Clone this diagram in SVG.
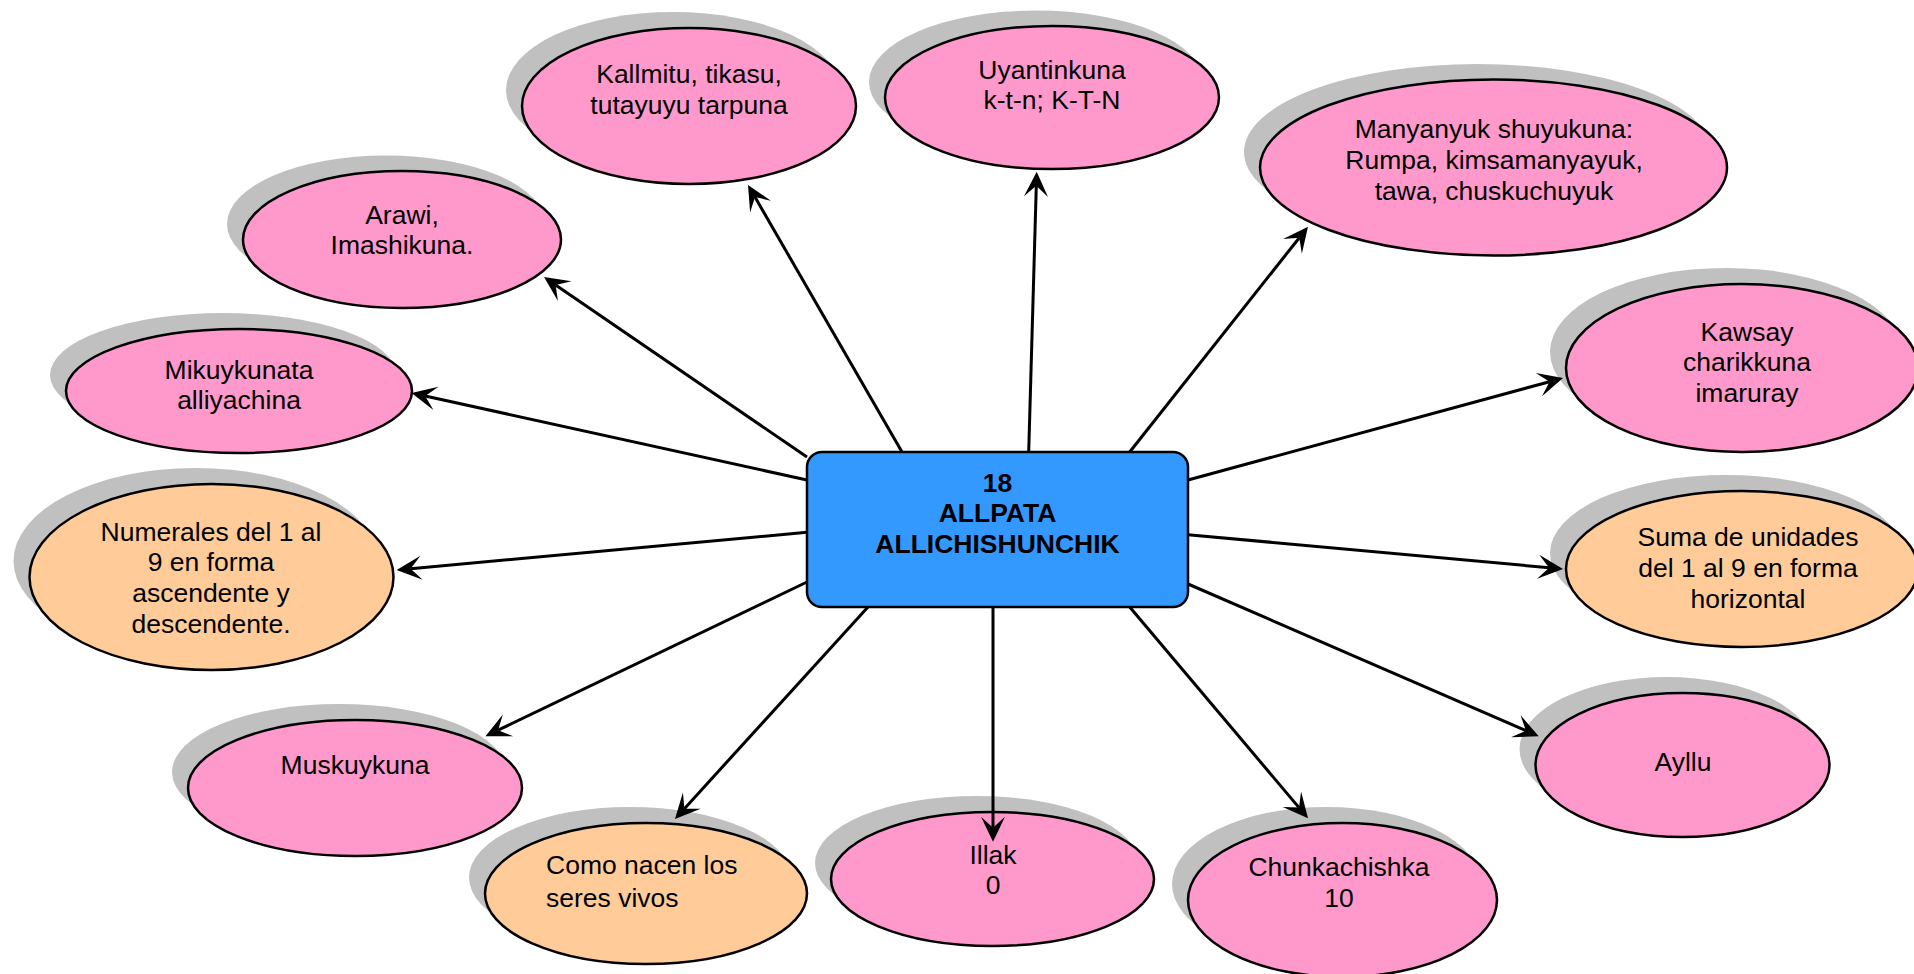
<svg xmlns="http://www.w3.org/2000/svg" width="1914" height="974" viewBox="0 0 1914 974">
<style>
.sh{fill:#C0C0C0;stroke:none}
.pk{fill:#FF99CC;stroke:#000;stroke-width:2.5}
.or{fill:#FFCC99;stroke:#000;stroke-width:2.5}
.t{font-family:"Liberation Sans",Arial,sans-serif;font-size:26.5px;fill:#000;text-anchor:middle}
.tl{text-anchor:start}
.b{font-weight:bold}
.c{stroke:#000;stroke-width:3;fill:none;marker-end:url(#ah)}
</style>
<defs>
<marker id="ah" markerUnits="userSpaceOnUse" viewBox="-12 -13 28 26" refX="0" refY="0" markerWidth="28" markerHeight="26" orient="auto">
<path d="M14,0 L-11,-12 L0,0 L-11,12 Z" fill="#000"/>
</marker>
</defs>
<rect width="1914" height="974" fill="#fff"/>
<g id="n-kallmitu">
<ellipse class="sh" cx="673" cy="90" rx="167" ry="78"/>
<ellipse class="pk" cx="689" cy="106" rx="167" ry="78"/>
<text class="t" x="689" y="83">Kallmitu, tikasu,</text>
<text class="t" x="689" y="114">tutayuyu tarpuna</text>
</g>
<g id="n-uyantinkuna">
<ellipse class="sh" cx="1036" cy="82" rx="167" ry="71.5"/>
<ellipse class="pk" cx="1052" cy="97.5" rx="167" ry="71.5"/>
<text class="t" x="1052" y="79">Uyantinkuna</text>
<text class="t" x="1052" y="109">k-t-n; K-T-N</text>
</g>
<g id="n-arawi">
<ellipse class="sh" cx="386" cy="224" rx="159" ry="68.5"/>
<ellipse class="pk" cx="402" cy="239.5" rx="159" ry="68.5"/>
<text class="t" x="402" y="224">Arawi,</text>
<text class="t" x="402" y="254">Imashikuna.</text>
</g>
<g id="n-manyanyuk">
<ellipse class="sh" cx="1477.5" cy="152" rx="233.5" ry="88"/>
<ellipse class="pk" cx="1493.5" cy="167.5" rx="233.5" ry="88"/>
<text class="t" x="1494" y="138">Manyanyuk shuyukuna:</text>
<text class="t" x="1494" y="169">Rumpa, kimsamanyayuk,</text>
<text class="t" x="1494" y="200">tawa, chuskuchuyuk</text>
</g>
<g id="n-mikuykunata">
<ellipse class="sh" cx="223" cy="375" rx="173" ry="62"/>
<ellipse class="pk" cx="239" cy="391" rx="173" ry="62"/>
<text class="t" x="239" y="379">Mikuykunata</text>
<text class="t" x="239" y="409">alliyachina</text>
</g>
<g id="n-kawsay">
<ellipse class="sh" cx="1726" cy="352" rx="176" ry="84"/>
<ellipse class="pk" cx="1742" cy="368" rx="176" ry="84"/>
<text class="t" x="1747" y="341">Kawsay</text>
<text class="t" x="1747" y="371">charikkuna</text>
<text class="t" x="1747" y="402">imaruray</text>
</g>
<g id="n-numerales">
<ellipse class="sh" cx="195.5" cy="561" rx="182" ry="93"/>
<ellipse class="or" cx="211.5" cy="577" rx="182" ry="93"/>
<text class="t" x="211" y="541">Numerales del 1 al</text>
<text class="t" x="211" y="571">9 en forma</text>
<text class="t" x="211" y="602">ascendente y</text>
<text class="t" x="211" y="633">descendente.</text>
</g>
<g id="n-suma">
<ellipse class="sh" cx="1726" cy="553" rx="176" ry="78"/>
<ellipse class="or" cx="1742" cy="569" rx="176" ry="78"/>
<text class="t" x="1748" y="546">Suma de unidades</text>
<text class="t" x="1748" y="577">del 1 al 9 en forma</text>
<text class="t" x="1748" y="608">horizontal</text>
</g>
<g id="n-muskuykuna">
<ellipse class="sh" cx="339" cy="772" rx="167" ry="68"/>
<ellipse class="pk" cx="355" cy="788" rx="167" ry="68"/>
<text class="t" x="355" y="774">Muskuykuna</text>
</g>
<g id="n-ayllu">
<ellipse class="sh" cx="1666.5" cy="749" rx="147" ry="72"/>
<ellipse class="pk" cx="1682.5" cy="765" rx="147" ry="72"/>
<text class="t" x="1683" y="771">Ayllu</text>
</g>
<g id="n-como">
<ellipse class="sh" cx="630" cy="877.5" rx="161" ry="70.5"/>
<ellipse class="or" cx="646" cy="893.5" rx="161" ry="70.5"/>
<text class="t tl" x="546" y="874">Como nacen los</text>
<text class="t tl" x="546" y="907">seres vivos</text>
</g>
<g id="n-illak">
<ellipse class="sh" cx="976.5" cy="863" rx="161.5" ry="67"/>
<ellipse class="pk" cx="992.5" cy="879" rx="161.5" ry="67"/>
<text class="t" x="993" y="864">Illak</text>
<text class="t" x="993" y="894">0</text>
</g>
<g id="n-chunkachishka">
<ellipse class="sh" cx="1326.5" cy="884" rx="154.5" ry="77"/>
<ellipse class="pk" cx="1342.5" cy="900" rx="154.5" ry="77"/>
<text class="t" x="1339" y="876">Chunkachishka</text>
<text class="t" x="1339" y="907">10</text>
</g>
<g id="connectors">
<line class="c" x1="902" y1="452" x2="755" y2="197.1"/>
<line class="c" x1="807" y1="457" x2="555.6" y2="284.9"/>
<line class="c" x1="807" y1="480" x2="425.2" y2="396"/>
<line class="c" x1="1028.7" y1="452" x2="1036.3" y2="185.7"/>
<line class="c" x1="1129.7" y1="452" x2="1299.3" y2="237.7"/>
<line class="c" x1="1188" y1="480" x2="1549.5" y2="381.7"/>
<line class="c" x1="807" y1="532.3" x2="410.6" y2="568.7"/>
<line class="c" x1="807" y1="582" x2="498.1" y2="730.2"/>
<line class="c" x1="868" y1="607" x2="684.4" y2="808.7"/>
<line class="c" x1="1188" y1="534.7" x2="1549.1" y2="567.7"/>
<line class="c" x1="1188" y1="584" x2="1525.9" y2="730.7"/>
<line class="c" x1="993" y1="607" x2="993" y2="827.7"/>
<line class="c" x1="1129.7" y1="607" x2="1299" y2="807.6"/>
</g>
<g id="n-center">
<rect x="807" y="452" width="381" height="155" rx="15" ry="15" fill="#3399FF" stroke="#000" stroke-width="2.5"/>
<text class="t b" x="997.5" y="492">18</text>
<text class="t b" x="997.5" y="522">ALLPATA</text>
<text class="t b" x="997.5" y="553">ALLICHISHUNCHIK</text>
</g>
</svg>
